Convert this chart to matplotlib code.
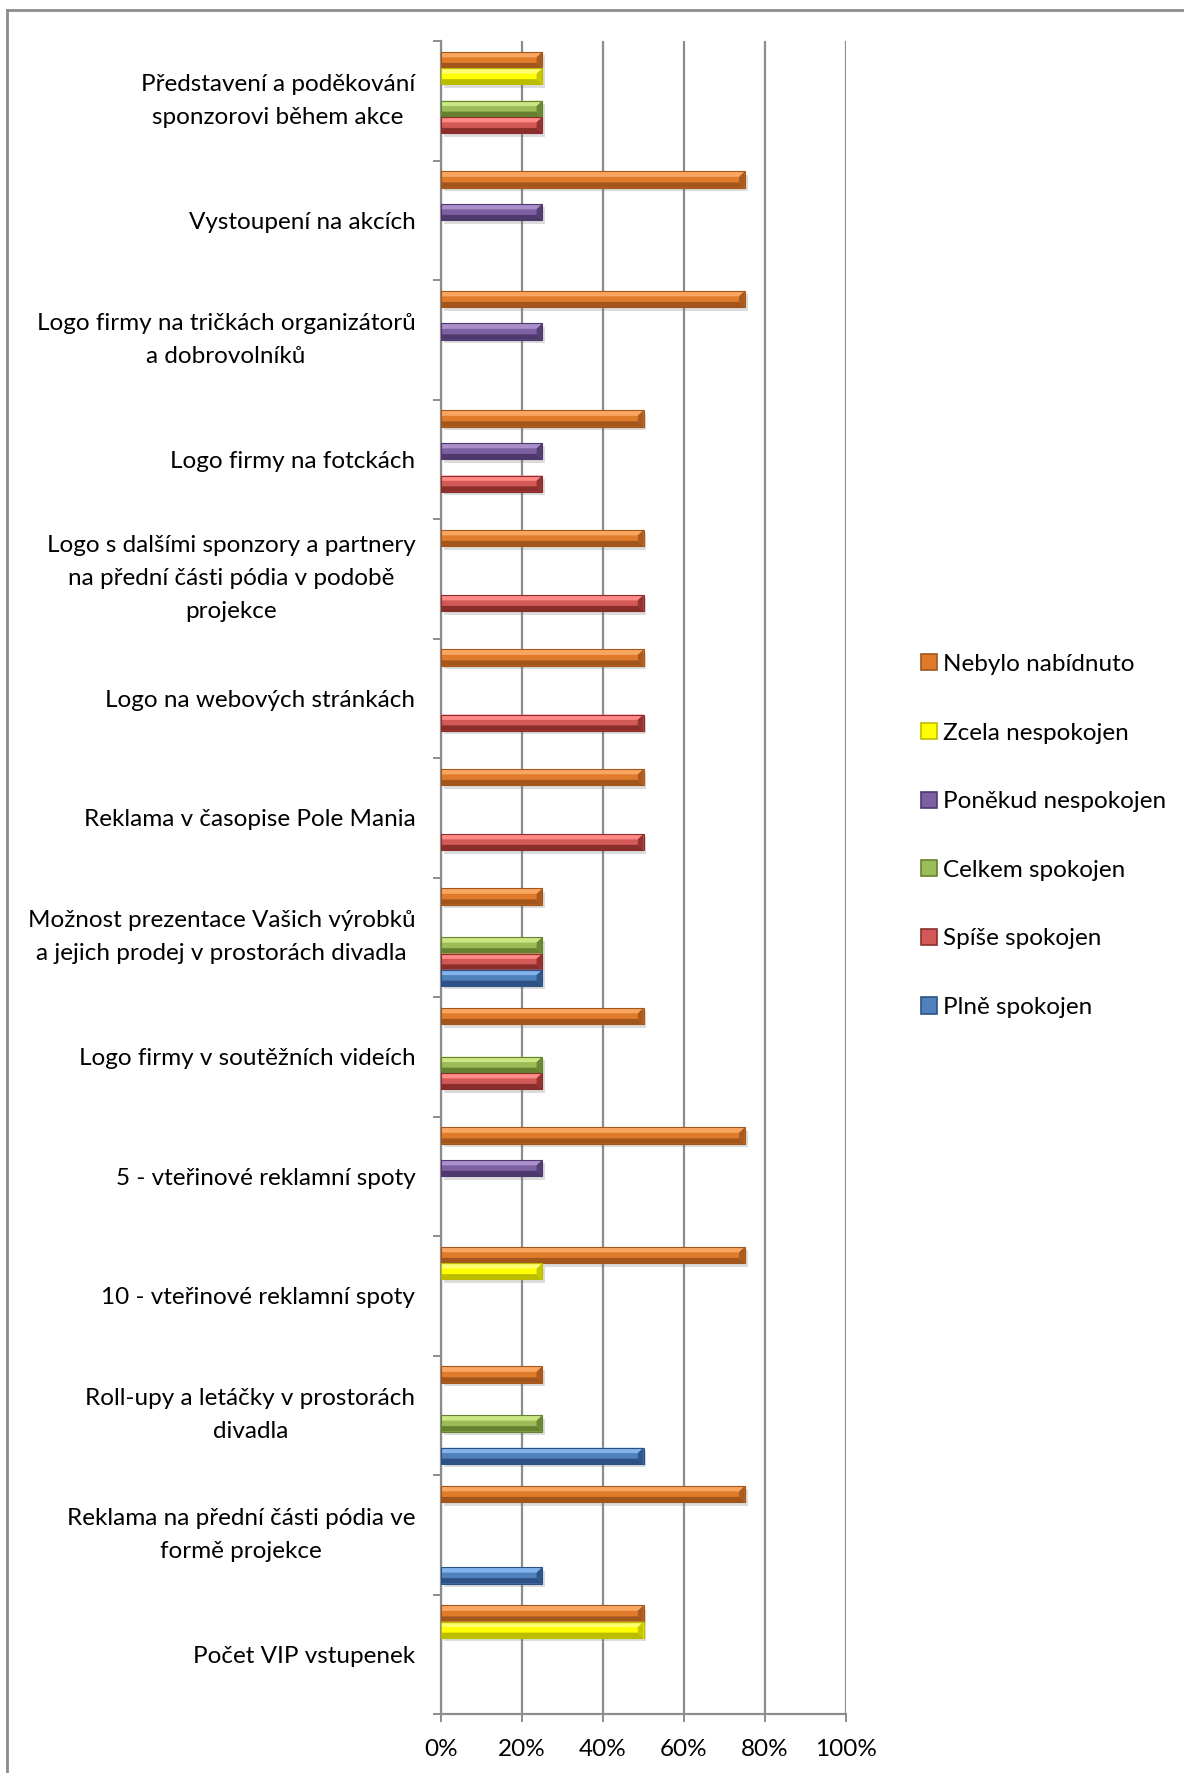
import matplotlib
matplotlib.use("Agg")
import numpy as np
from matplotlib import pyplot as plt
from matplotlib.patches import Polygon, Rectangle
from matplotlib.lines import Line2D
from matplotlib.ticker import PercentFormatter, FixedLocator
import matplotlib.patheffects as pe

plt.rcParams['font.family'] = ['Lato', 'DejaVu Sans']

# Categories, listed top to bottom as shown on the chart
categories = [
    "Představení a poděkování\nsponzorovi během akce",
    "Vystoupení na akcích",
    "Logo firmy na tričkách organizátorů\na dobrovolníků",
    "Logo firmy na fotckách",
    "Logo s dalšími sponzory a partnery\nna přední části pódia v podobě\nprojekce",
    "Logo na webových stránkách",
    "Reklama v časopise Pole Mania",
    "Možnost prezentace Vašich výrobků\na jejich prodej v prostorách divadla",
    "Logo firmy v soutěžních videích",
    "5 - vteřinové reklamní spoty",
    "10 - vteřinové reklamní spoty",
    "Roll-upy a letáčky v prostorách\ndivadla",
    "Reklama na přední části pódia ve\nformě projekce",
    "Počet VIP vstupenek",
]

# Answer shares in % (same order as categories)
nebylo_nabidnuto = [25, 75, 75, 50, 50, 50, 50, 25, 50, 75, 75, 25, 75, 50]
zcela_nespokojen = [25, 0, 0, 0, 0, 0, 0, 0, 0, 0, 25, 0, 0, 50]
ponekud_nespokojen = [0, 25, 25, 25, 0, 0, 0, 0, 0, 25, 0, 0, 0, 0]
celkem_spokojen = [25, 0, 0, 0, 0, 0, 0, 25, 25, 0, 0, 25, 0, 0]
spise_spokojen = [25, 0, 0, 25, 50, 50, 50, 25, 25, 0, 0, 0, 0, 0]
plne_spokojen = [0, 0, 0, 0, 0, 0, 0, 25, 0, 0, 0, 50, 25, 0]

series_names = ["Nebylo nabídnuto", "Zcela nespokojen", "Poněkud nespokojen",
                "Celkem spokojen", "Spíše spokojen", "Plně spokojen"]
series_values = [nebylo_nabidnuto, zcela_nespokojen, ponekud_nespokojen,
                 celkem_spokojen, spise_spokojen, plne_spokojen]

# (light bevel, face, dark bevel)
palettes = [
    ("#F9A760", "#E07B2C", "#A2561C"),
    ("#FFFF70", "#FFFF00", "#BDBD00"),
    ("#A98FCB", "#7D60A2", "#4E396C"),
    ("#CBE783", "#9CBB59", "#66812E"),
    ("#FF8A87", "#D25956", "#8A2E2C"),
    ("#83B4EC", "#4F81BD", "#2C5184"),
]

FS = 17.5

fig = plt.figure(figsize=(11.84, 17.73), dpi=100)
ax = fig.add_axes([441 / 1184, 1 - 1714 / 1773, 405 / 1184, 1673 / 1773])

n = len(categories)
ypos = np.arange(n)[::-1]
h = 0.136

handles = []
for k, (name, vals, pal) in enumerate(zip(series_names, series_values, palettes)):
    off = (2.5 - k) * h
    bars = ax.barh(ypos + off, vals, height=h, color=pal[1], linewidth=0,
                   zorder=3, label=name)
    handles.append(Rectangle((0, 0), 1, 1, facecolor=pal[1], edgecolor=pal[2], lw=1.2))
    for b in bars:
        w = b.get_width()
        if w <= 0:
            b.set_visible(False)
            continue
        b.set_path_effects([pe.SimplePatchShadow(offset=(2, -2.5), alpha=0.25,
                                                 shadow_rgbFace='#777777'), pe.Normal()])
        # bevelled look: light upper edge, dark lower edge and right end
        x0, x1 = b.get_x(), b.get_x() + w
        yb, yt = b.get_y(), b.get_y() + b.get_height()
        dx = 1.4
        dy = 0.33 * (yt - yb)
        top = Polygon([(x0, yt), (x1, yt), (x1 - dx, yt - dy), (x0, yt - dy)],
                      closed=True, facecolor=pal[0], edgecolor='none', zorder=4)
        bot = Polygon([(x0, yb), (x1, yb), (x1 - dx, yb + dy), (x0, yb + dy)],
                      closed=True, facecolor=pal[2], edgecolor='none', zorder=4)
        end = Polygon([(x1, yt), (x1, yb), (x1 - dx, yb + dy), (x1 - dx, yt - dy)],
                      closed=True, facecolor=pal[2], edgecolor='none', alpha=0.85, zorder=4)
        frame = Rectangle((x0, yb), w, yt - yb, facecolor='none', edgecolor=pal[2],
                          lw=0.8, zorder=5)
        for p in (top, bot, end, frame):
            ax.add_patch(p)

gray = '#8C8C8C'
ax.set_xlim(0, 100)
ax.set_ylim(-0.5, n - 0.5)
ax.xaxis.set_major_locator(FixedLocator([0, 20, 40, 60, 80, 100]))
ax.xaxis.set_major_formatter(PercentFormatter(100, decimals=0))
ax.grid(axis='x', color=gray, lw=1.6, zorder=0)
ax.set_axisbelow(True)

ax.set_yticks(ypos)
ax.set_yticklabels(categories)
ax.set_yticks(np.arange(n + 1) - 0.5, minor=True)
for t in ax.get_yticklabels():
    t.set_multialignment('center')
    t.set_linespacing(1.7)
    if '\n' in t.get_text():
        t.set_verticalalignment('center')
ax.tick_params(axis='y', which='major', length=0, pad=18.5, labelsize=FS)
ax.tick_params(axis='y', which='minor', length=6, width=1.4, color=gray, direction='out')
ax.tick_params(axis='x', length=6, width=1.4, color=gray, direction='out', pad=12,
               labelsize=FS)

for s in ('top', 'right'):
    ax.spines[s].set_visible(False)
for s in ('left', 'bottom'):
    ax.spines[s].set_color(gray)
    ax.spines[s].set_linewidth(1.6)

fig.legend(handles, series_names, loc='center left',
           bbox_to_anchor=(921 / 1184, 1 - 836 / 1773), frameon=False,
           fontsize=FS, labelspacing=1.96, handlelength=0.65, handleheight=0.65,
           handletextpad=0.25, borderpad=0, borderaxespad=0)

# outer chart border (top and left edges)
fig.add_artist(Line2D([7 / 1184, 7 / 1184], [0, 1 - 10 / 1773], color=gray, lw=2))
fig.add_artist(Line2D([7 / 1184, 1], [1 - 10 / 1773, 1 - 10 / 1773], color=gray, lw=2))

fig.savefig('out.png', dpi=100)
